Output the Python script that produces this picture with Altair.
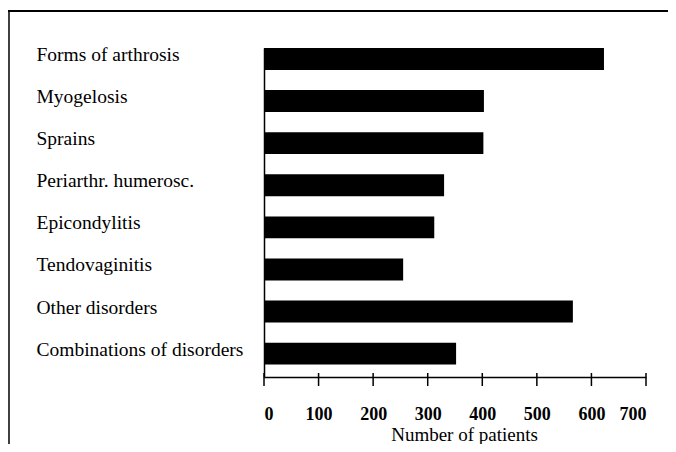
import altair as alt
import pandas as pd

categories = [
    "Forms of arthrosis",
    "Myogelosis",
    "Sprains",
    "Periarthr. humerosc.",
    "Epicondylitis",
    "Tendovaginitis",
    "Other disorders",
    "Combinations of disorders",
]
patients = [623, 403, 402, 330, 312, 255, 566, 352]
tick_values = [0, 100, 200, 300, 400, 500, 600, 700]
x_title = "Number of patients"

FONT = "Liberation Serif"
W, H = 382, 329

df = pd.DataFrame({"category": categories, "patients": patients})
ticks_df = pd.DataFrame({"t": tick_values})
one = pd.DataFrame({"a": [0]})

x_scale = alt.Scale(domain=[0, 700], nice=False)

bars = alt.Chart(df).mark_bar(color="black", clip=False).encode(
    y=alt.Y(
        "category:N",
        sort=categories,
        scale=alt.Scale(paddingInner=0.48, paddingOuter=0.147, align=0),
        axis=alt.Axis(
            title=None,
            ticks=False,
            tickSize=0,
            labelAlign="left",
            labelPadding=228,
            labelBaseline="middle",
            labelOffset=-4,
            labelFont=FONT,
            labelFontSize=19.5,
            labelColor="black",
            labelLimit=300,
            domainColor="black",
            domainWidth=1.5,
        ),
    ),
    x=alt.X(
        "patients:Q",
        scale=x_scale,
        axis=alt.Axis(
            values=tick_values,
            ticks=False,
            tickSize=0,
            grid=False,
            labelPadding=28,
            labelFont=FONT,
            labelFontSize=18,
            labelFontWeight="bold",
            labelColor="black",
            domainColor="black",
            domainWidth=1.5,
            title=x_title,
            titleFont=FONT,
            titleFontSize=19,
            titleFontWeight="normal",
            titleColor="black",
            titleX=200,
            titleY=57,
            titleAlign="center",
            titleBaseline="middle",
        ),
    ),
)

tick_rules = alt.Chart(ticks_df).mark_rule(color="black", strokeWidth=1.5, clip=False).encode(
    x=alt.X("t:Q", scale=x_scale),
    y=alt.value(H - 4),
    y2=alt.value(H + 9),
)

frame_top = alt.Chart(one).mark_rule(color="black", strokeWidth=2, clip=False).encode(
    x=alt.value(-256), x2=alt.value(W + 22), y=alt.value(-37)
)
frame_left = alt.Chart(one).mark_rule(color="black", strokeWidth=1.5, clip=False).encode(
    x=alt.value(-255), y=alt.value(-37), y2=alt.value(H + 67)
)

chart = (
    alt.layer(bars, tick_rules, frame_top, frame_left)
    .properties(
        width=W,
        height=H,
        autosize=alt.AutoSizeParams(type="none"),
        padding={"left": 256, "top": 40, "right": 22, "bottom": 67},
        background="white",
    )
    .configure_view(stroke=None)
)

chart.save("out.html", embed_options={"renderer": "svg", "actions": False})
